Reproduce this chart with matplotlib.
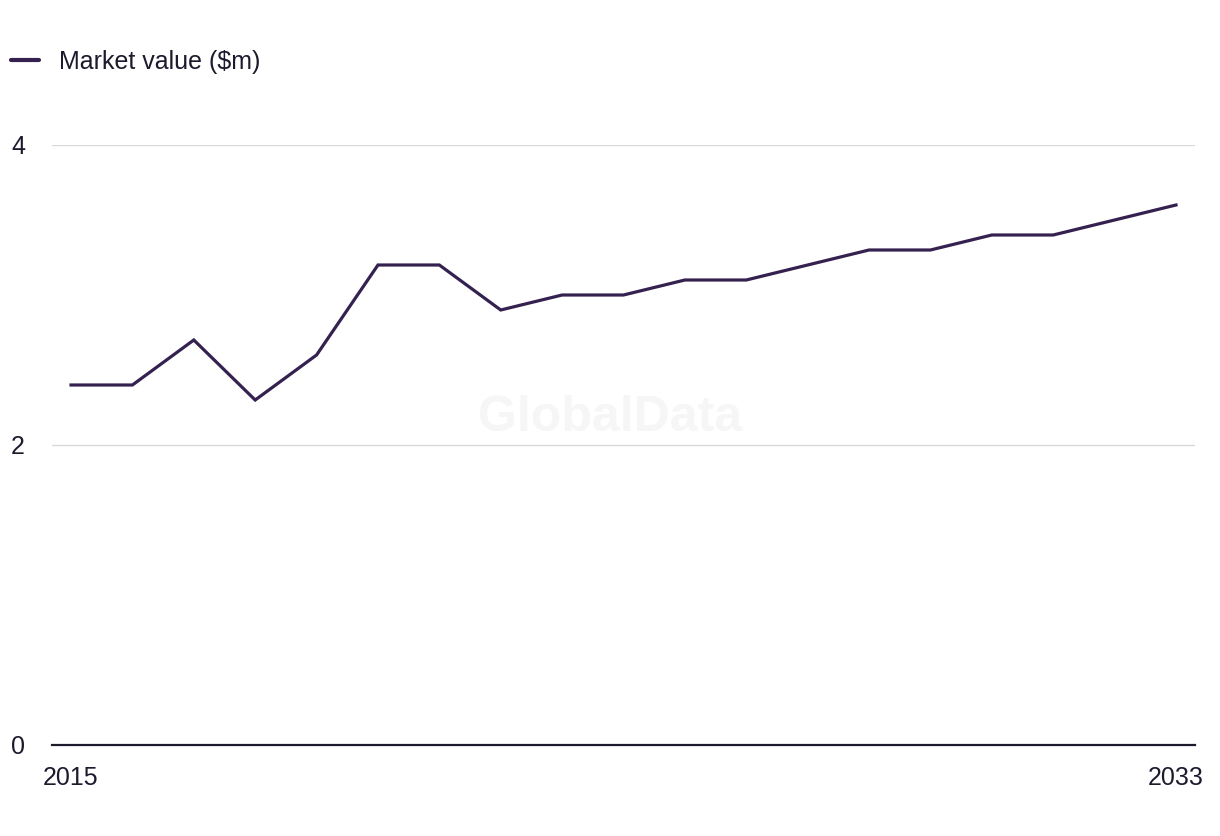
import matplotlib
matplotlib.use("Agg")
import matplotlib.pyplot as plt
from matplotlib.lines import Line2D

years = list(range(2015, 2034))
values = [2.4, 2.4, 2.7, 2.3, 2.6, 3.2, 3.2, 2.9, 3.0, 3.0, 3.1, 3.1, 3.2, 3.3, 3.3, 3.4, 3.4, 3.5, 3.6]
series_name = "Market value ($m)"
y_ticks = [0, 2, 4]
x_tick_labels = ["2015", "2033"]

line_color = "#35214f"
text_color = "#1c1b2e"

plt.rcParams['font.family'] = ['Liberation Sans', 'DejaVu Sans']

fig = plt.figure(figsize=(12.2, 8.36), dpi=100)
ax = fig.add_axes([52/1220, 1-745/836, (1195-52)/1220, (745-145)/836])

ax.plot(years, values, color=line_color, linewidth=2.3, solid_joinstyle='miter', zorder=3)

ax.set_xlim(2015 - 0.31, 2033 + 0.31)
ax.set_ylim(0, 4)
ax.set_yticks(y_ticks)
ax.set_yticklabels([str(t) for t in y_ticks])
ax.set_xticks([years[0], years[-1]])
ax.set_xticklabels(x_tick_labels)

for s in ['top', 'right', 'left']:
    ax.spines[s].set_visible(False)
ax.spines['bottom'].set_color(text_color)
ax.spines['bottom'].set_linewidth(1.6)

ax.grid(axis='y', color='#d9d9d9', linewidth=1.0)
ax.set_axisbelow(True)
ax.tick_params(axis='both', length=0, colors=text_color, labelsize=18)
ax.tick_params(axis='y', pad=19.5)
ax.tick_params(axis='x', pad=15)
for lab in ax.get_yticklabels():
    lab.set_verticalalignment('center_baseline')

ax.text(0.488, 0.545, "GlobalData", transform=ax.transAxes, ha='center', va='center',
        fontsize=36, fontweight='bold', color='#f6f6f6', zorder=1)

handle = Line2D([0], [0], color=line_color, linewidth=3.0, solid_capstyle='round')
fig.legend([handle], [series_name], loc='center left', bbox_to_anchor=(0.0, 1-62/836),
           frameon=False, fontsize=18, handlelength=1.1, handletextpad=0.8,
           labelcolor=text_color, borderaxespad=0.0, borderpad=0.45)

fig.savefig("out.png", dpi=100, facecolor='white')
